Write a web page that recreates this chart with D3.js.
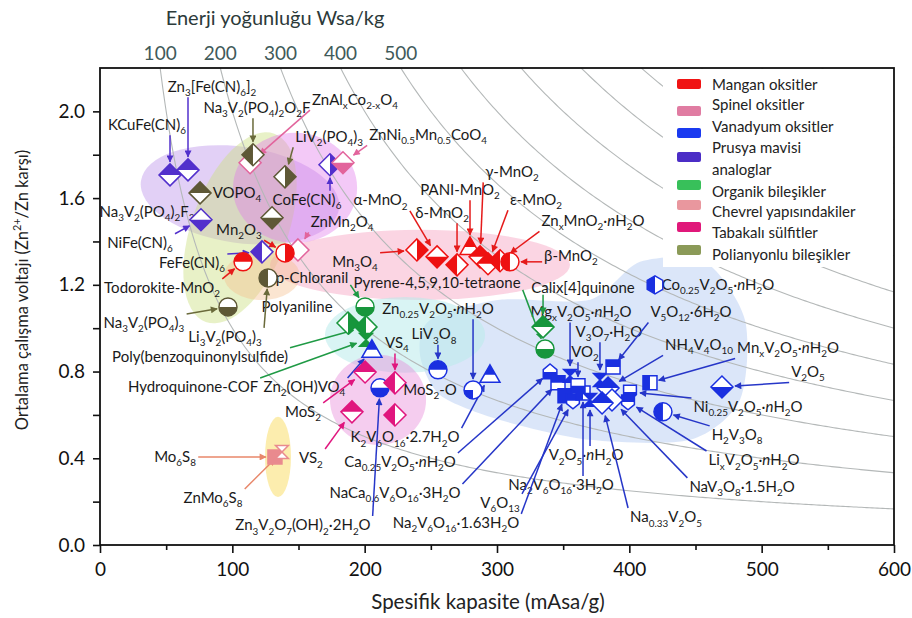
<!DOCTYPE html>
<html><head><meta charset="utf-8">
<script src="https://cdn.jsdelivr.net/npm/d3@7"></script>
<style>body{margin:0;background:#fff}svg{font-family:Lato,"Open Sans",sans-serif}</style>
</head><body><svg id="c" width="912" height="618"></svg>
<script>
// ---------------- DATA ----------------
const compounds = [
"KCuFe(CN)_{6}","Zn_{3}[Fe(CN)_{6}]_{2}","NiFe(CN)_{6}","FeFe(CN)_{6}","CoFe(CN)_{6}",
"ZnAl_{x}Co_{2-x}O_{4}","ZnNi_{0.5}Mn_{0.5}CoO_{4}","ZnMn_{2}O_{4}",
"Na_{3}V_{2}(PO_{4})_{2}O_{2}F","LiV_{2}(PO_{4})_{3}","Na_{3}V_{2}(PO_{4})_{2}F_{3}","VOPO_{4}","Li_{3}V_{2}(PO_{4})_{3}","Na_{3}V_{2}(PO_{4})_{3}",
"Mn_{2}O_{3}","Todorokite-MnO_{2}","Mn_{3}O_{4}","α-MnO_{2}","δ-MnO_{2}","PANI-MnO_{2}","γ-MnO_{2}","ε-MnO_{2}","Zn_{x}MnO_{2}·*{n}H_{2}O","β-MnO_{2}",
"p-Chloranil","Polyaniline","Poly(benzoquinonylsulfide)","Hydroquinone-COF","Pyrene-4,5,9,10-tetraone","Calix[4]quinone",
"Co_{0.25}V_{2}O_{5}·*{n}H_{2}O","Zn_{0.25}V_{2}O_{5}·*{n}H_{2}O","LiV_{3}O_{8}","K_{2}V_{6}O_{16}·2.7H_{2}O","Zn_{2}(OH)VO_{4}","Zn_{3}V_{2}O_{7}(OH)_{2}·2H_{2}O",
"Ca_{0.25}V_{2}O_{5}·*{n}H_{2}O","NaCa_{0.6}V_{6}O_{16}·3H_{2}O","Na_{2}V_{6}O_{16}·1.63H_{2}O","V_{6}O_{13}","Na_{2}V_{6}O_{16}·3H_{2}O","V_{2}O_{5}·*{n}H_{2}O",
"Mg_{x}V_{2}O_{5}·*{n}H_{2}O","V_{3}O_{7}·H_{2}O","VO_{2}","V_{5}O_{12}·6H_{2}O","NH_{4}V_{4}O_{10}","Mn_{x}V_{2}O_{5}·*{n}H_{2}O","V_{2}O_{5}",
"Ni_{0.25}V_{2}O_{5}·*{n}H_{2}O","H_{2}V_{3}O_{8}","Li_{x}V_{2}O_{5}·*{n}H_{2}O","NaV_{3}O_{8}·1.5H_{2}O","Na_{0.33}V_{2}O_{5}",
"VS_{4}","MoS_{2}-O","MoS_{2}","VS_{2}","Mo_{6}S_{8}","ZnMo_{6}S_{8}"];
const capacity = [52.9,66.5,76.3,122.4,173.8, 113.4,183.6,149.6, 115.6,139.8,75.6,130.0,127.0,96.7,
139.8,108.1,239.5,254.7,269.8,279.6,287.2,293.2,302.3,309.8,
200.3,187.4,201.0,201.0,336.3,334.8,
419.4,281.9,255.4,294.7,205.5,211.6,
340.1,346.1,351.4,357.4,365.0,370.3,
355.2,377.8,361.2,387.7,383.9,415.6,470.0,
400.5,425.4,399.0,386.9,379.4,
222.9,222.9,200.3,190.4,132.2,137.5];
const voltage = [1.707,1.730,1.500,1.352,1.754, 1.763,1.763,1.361, 1.800,1.698,1.624,1.509,1.232,1.098,
1.347,1.306,1.361,1.329,1.292,1.375,1.329,1.297,1.311,1.306,
1.098,1.024,1.006,0.946,0.904,1.006,
1.200,0.715,0.808,0.785,0.900,0.725,
0.798,0.748,0.688,0.665,0.701,0.669,
0.780,0.761,0.734,0.821,0.724,0.748,0.729,
0.706,0.614,0.660,0.669,0.655,
0.748,0.600,0.798,0.614,0.406,0.429];
// category index into legend: 0 Mn,1 spinel,2 V,3 Prussian,4 organic,5 Chevrel,6 sulfide,7 polyanion
const category = [3,3,3,3,3, 1,1,1, 7,7,7,7,7,7, 0,0,0,0,0,0,0,0,0,0, 4,4,4,4,4,4,
2,2,2,2,2,2, 2,2,2,2,2,2, 2,2,2,2,2,2,2, 2,2,2,2,2, 6,6,6,6,5,5];
const labelCapacity = [35.5,84.6,30.2,69.5,156.4, 192.7,247.9,182.9, 118.6,173.1,35.5,103.5,94.5,33.2,
105.0,46.9,192.7,212.0,258.5,272.0,311.3,329.5,372.5,355.9,
160.2,148.9,75.6,70.3,254.7,365.0,
467.0,255.4,252.4,230.5,154.5,153.4,
226.7,222.9,269.0,302.3,348.4,367.3,
363.5,384.6,366.5,446.6,452.7,519.9,535.0,
489.7,481.4,494.2,485.2,427.7,
224.4,249.4,153.4,159.4,56.7,85.4];
const labelVoltage = [1.938,2.113,1.394,1.301,1.592, 2.054,1.892,1.490, 2.017,1.883,1.537,1.624,0.960,1.024,
1.454,1.186,1.306,1.590,1.532,1.638,1.721,1.592,1.495,1.334,
1.232,1.098,0.868,0.729,1.209,1.186,
1.200,1.090,0.972,0.498,0.729,0.092,
0.383,0.240,0.102,0.194,0.277,0.415,
1.075,0.983,0.891,1.075,0.923,0.909,0.798,
0.637,0.508,0.392,0.268,0.129,
0.932,0.715,0.614,0.401,0.406,0.217];
const legendLabels = ["Mangan oksitler","Spinel oksitler","Vanadyum oksitler","Prusya mavisi|analoglar","Organik bileşikler","Chevrel yapısındakiler","Tabakalı sülfitler","Polianyonlu bileşikler"];
const xTicks = [0,100,200,300,400,500,600];
const xMinor = [50,150,250,350,450,550];
const yTicks = [0,0.4,0.8,1.2,1.6,2.0];
const yMinor = [0.2,0.6,1.0,1.4,1.8];
const energyTicks = [100,200,300,400,500];
const energyLines = [100,200,300,400,500,600,700,800,900,1000,1100,1200];

// ---------------- STYLE ----------------
const markerShape = ["D","D","D","D","D", "D","D","D", "D","D","D","D","O","O",
"O","O","D","D","D","T","D","D","D","O",
"O","D","D","B","O","D",
"H","O","O","T","T","O",
"P","S","S","Q","S","B",
"B","B","S","S","D","S","D",
"Q","O","Q","D","D",
"D","D","D","D","S","B"];
const markerFill = ["t","t","b","l","r", "n","b","n", "l","r","t","b","l","b",
"r","t","r","b","l","t","t","t","l","l",
"b","r","l","f","b","t",
"l","q","t","t","t","b",
"b","t","f","t","l","f",
"f","f","b","t","t","l","b",
"b","l","t","n","t",
"l","l","t","t","f","n"];
const catColor = ["#ee1111","#e2649c","#1a30e0","#5230cc","#17963c","#e98a8e","#e0167e","#5e5836"];
const arrowColor = ["#e51a1a","#e2649c","#2636c8","#5230cc","#1f9a45","#e8876a","#e0167e","#6a6a3a"];
const legendColor = ["#f01414","#e07ca2","#1a3af0","#4b2dc6","#38c05a","#e9979e","#e0187a","#8b9a58"];

// blobs (data-space ellipses)
const blobs = [
 {c:105.8,v:1.615,rc:75.6,rv:0.222,rot:8,fill:"rgba(190,150,235,0.45)"},
 {c:105.8,v:1.463,rc:36.3,rv:0.462,rot:20,fill:"rgba(205,225,130,0.45)"},
 {c:147.4,v:1.647,rc:46.9,rv:0.254,rot:0,fill:"rgba(225,120,235,0.40)"},
 {c:241.8,v:1.292,rc:113.4,rv:0.162,rot:0,fill:"rgba(245,150,185,0.40)"},
 {c:122.4,v:1.241,rc:28.7,rv:0.111,rot:0,fill:"rgba(245,190,140,0.40)"},
 {c:230.5,v:0.969,rc:60.5,rv:0.175,rot:0,fill:"rgba(185,235,235,0.55)"},
 {c:210.1,v:0.669,rc:36.3,rv:0.208,rot:0,fill:"rgba(230,130,215,0.40)"},
 {c:134.5,v:0.406,rc:9.8,rv:0.185,rot:0,fill:"rgba(250,225,120,0.60)"}
];
const vBlobC = [249.4,302.3,370.3,408.1,457.2,487.4,483.6,445.9,370.3,302.3,256.9,241.8];
const vBlobV = [1.038,1.131,1.131,1.306,1.306,1.038,0.669,0.485,0.485,0.577,0.692,0.877];

// ---------------- DRAW ----------------
const svg = d3.select("#c");
const x = d3.scaleLinear().domain([0,600]).range([100,894]);
const y = d3.scaleLinear().domain([0,2.2]).range([545,68]);
const sx = x(1)-x(0), sy = y(0)-y(1);
const defs = svg.append("defs");
defs.append("clipPath").attr("id","plotClip").append("rect")
  .attr("x",x(0)).attr("y",y(2.2)).attr("width",x(600)-x(0)).attr("height",y(0)-y(2.2));
const halves = {t:[-20,-20,40,20],b:[-20,0,40,20],l:[-20,-20,20,40],r:[0,-20,20,40],q:[-20,0,20,20],f:[-20,-20,40,40]};
for (const k in halves){const h=halves[k];
  defs.append("clipPath").attr("id","h_"+k).append("rect").attr("x",h[0]).attr("y",h[1]).attr("width",h[2]).attr("height",h[3]);}
arrowColor.forEach((c,i)=>{
  defs.append("marker").attr("id","ah"+i).attr("viewBox","0 0 10 10").attr("refX",9).attr("refY",5)
   .attr("markerWidth",8).attr("markerHeight",7).attr("markerUnits","userSpaceOnUse").attr("orient","auto")
   .append("path").attr("d","M0,0L10,5L0,10Z").attr("fill",c);
});

const plot = svg.append("g").attr("clip-path","url(#plotClip)");
// blobs
const vPts = vBlobC.map((c,i)=>[x(c),y(vBlobV[i])]);
plot.append("path").attr("d",d3.line().curve(d3.curveCardinalClosed.tension(0.2))(vPts)).attr("fill","rgba(175,200,242,0.45)");
blobs.forEach(b=>{
  plot.append("ellipse").attr("transform",`translate(${x(b.c)},${y(b.v)}) rotate(${b.rot})`)
    .attr("rx",b.rc*sx).attr("ry",b.rv*sy).attr("fill",b.fill);
});
// iso-energy lines
const isoLine = d3.line().x(d=>x(d[0])).y(d=>y(d[1]));
energyLines.forEach(E=>{
  const pts=[]; for(let c=E/2.3;c<=600;c+=2) pts.push([c,E/c]); pts.push([600,E/600]);
  plot.append("path").attr("d",isoLine(pts)).attr("fill","none").attr("stroke","#b4b8b8").attr("stroke-width",1.1);
});
// legend background
svg.append("rect").attr("x",663).attr("y",y(2.2)+1).attr("width",x(600)-663-1).attr("height",198).attr("fill","#fff");

function rich(sel,str,fs){
  const parts=str.split(/(_\{[^}]*\}|\^\{[^}]*\}|\*\{[^}]*\})/).filter(s=>s.length);
  let shift=0;
  parts.forEach(p=>{
    let t=p,target=0,size=null,it=false;
    if(p.startsWith("_{")){t=p.slice(2,-1);target=0.3*fs;size=0.66*fs;}
    else if(p.startsWith("^{")){t=p.slice(2,-1);target=-0.42*fs;size=0.66*fs;}
    else if(p.startsWith("*{")){t=p.slice(2,-1);it=true;}
    const ts=sel.append("tspan").attr("dy",(target-shift).toFixed(2)).text(t);
    shift=target; if(size) ts.attr("font-size",size); if(it) ts.attr("font-style","italic");
  });
}

const gLab = svg.append("g"), gArr = svg.append("g"), gMk = svg.append("g");
const R = {D:11,O:9,S:7,T:10,H:9,P:8,Q:8,B:8};
function shapePath(s,r){
  switch(s){
    case "D": return `M0,${-r}L${r},0L0,${r}L${-r},0Z`;
    case "S": return `M${-r},${-r}H${r}V${r}H${-r}Z`;
    case "T": return `M0,${-r}L${r},${r*0.75}L${-r},${r*0.75}Z`;
    case "H": return d3.range(6).map((k,i)=>{const a=Math.PI/3*k-Math.PI/2;return (i?"L":"M")+(r*Math.cos(a)).toFixed(2)+","+(r*Math.sin(a)).toFixed(2);}).join("")+"Z";
    case "P": return `M0,${-r}L${r*0.85},${-r*0.3}L${r*0.85},${r*0.85}L${-r*0.85},${r*0.85}L${-r*0.85},${-r*0.3}Z`;
    case "Q": return `M${-r*0.8},${-r*0.85}L${r*0.8},${-r*0.85}L${r*0.8},${r*0.35}L0,${r}L${-r*0.8},${r*0.35}Z`;
    case "B": return `M${-r*0.8},${-r*0.8}L${r*0.8},${-r*0.8}L${-r*0.8},${r*0.8}L${r*0.8},${r*0.8}Z`;
    case "O": return `M${-r},0A${r},${r} 0 1,0 ${r},0A${r},${r} 0 1,0 ${-r},0Z`;
  }
}
const FS = 15;
compounds.forEach((name,i)=>{
  const cat=category[i], mx=x(capacity[i]), my=y(voltage[i]);
  const t=gLab.append("text").attr("x",x(labelCapacity[i])).attr("y",y(labelVoltage[i])+5)
    .attr("text-anchor","middle").attr("font-size",FS).attr("fill","#1a1a1a");
  rich(t,name,FS);
  const bb=t.node().getBBox();
  const px=Math.max(bb.x-2,Math.min(mx,bb.x+bb.width+2));
  const py=Math.max(bb.y+1,Math.min(my,bb.y+bb.height-1));
  const r=R[markerShape[i]]+2, dx=mx-px, dy=my-py, L=Math.hypot(dx,dy);
  if(L>r+4){
    gArr.append("line").attr("x1",px).attr("y1",py).attr("x2",mx-dx/L*r).attr("y2",my-dy/L*r)
      .attr("stroke",arrowColor[cat]).attr("stroke-width",1.5).attr("marker-end",`url(#ah${cat})`);
  }
  const g=gMk.append("g").attr("transform",`translate(${mx},${my})`);
  const d=shapePath(markerShape[i],R[markerShape[i]]), col=catColor[cat], f=markerFill[i];
  g.append("path").attr("d",d).attr("fill","#fff");
  if(f!=="n") g.append("path").attr("d",d).attr("fill",col).attr("clip-path",`url(#h_${f})`);
  g.append("path").attr("d",d).attr("fill","none").attr("stroke",col).attr("stroke-width",1.5);
});

// axes
const fontAx = 19;
const xa = svg.append("g").attr("transform",`translate(0,${y(0)})`)
  .call(d3.axisBottom(x).tickValues(xTicks).tickSize(8).tickPadding(10).tickFormat(d3.format("d")));
const xm = svg.append("g").attr("transform",`translate(0,${y(0)})`)
  .call(d3.axisBottom(x).tickValues(xMinor).tickSize(5).tickFormat(""));
const ya = svg.append("g").attr("transform",`translate(${x(0)},0)`)
  .call(d3.axisLeft(y).tickValues(yTicks).tickSize(7).tickPadding(8).tickFormat(d3.format(".1f")));
const ym = svg.append("g").attr("transform",`translate(${x(0)},0)`)
  .call(d3.axisLeft(y).tickValues(yMinor).tickSize(7).tickFormat(""));
[xa,xm,ya,ym].forEach(a=>{a.select(".domain").remove();
  a.selectAll("line").attr("stroke","#111").attr("stroke-width",1.6);
  a.selectAll("text").attr("font-size",fontAx).attr("font-family","Lato").attr("fill","#111");});
svg.append("rect").attr("x",x(0)).attr("y",y(2.2)).attr("width",x(600)-x(0)).attr("height",y(0)-y(2.2))
  .attr("fill","none").attr("stroke","#111").attr("stroke-width",1.8);

// top energy scale
energyTicks.forEach(E=>{
  svg.append("text").attr("x",x(E/2.2)).attr("y",60).attr("text-anchor","middle")
    .attr("font-size",19).attr("fill","#3f5a5a").text(E);
});
svg.append("text").attr("x",275).attr("y",25).attr("text-anchor","middle").attr("font-size",20)
  .attr("fill","#2c3a3a").text("Enerji yoğunluğu Wsa/kg");
svg.append("text").attr("x",488).attr("y",609).attr("text-anchor","middle").attr("font-size",20.5)
  .attr("fill","#222").text("Spesifik kapasite (mAsa/g)");
const yl = svg.append("text").attr("transform","translate(28,290) rotate(-90)").attr("text-anchor","middle")
  .attr("font-size",16.5).attr("fill","#222");
rich(yl,"Ortalama çalışma voltajı (Zn^{2+}/Zn karşı)",16.5);

// legend
const swY=[84,111,133,157,185,205,227,250];
const txY=[[85],[105],[127],[148,170],[192],[212],[233],[255]];
legendLabels.forEach((l,i)=>{
  svg.append("rect").attr("x",677).attr("y",swY[i]-5).attr("width",24).attr("height",10).attr("rx",2)
    .attr("fill",legendColor[i]);
  l.split("|").forEach((s,j)=>{
    svg.append("text").attr("x",712).attr("y",txY[i][j]+5).attr("font-size",15).attr("fill","#222").text(s);
  });
});
</script></body></html>
